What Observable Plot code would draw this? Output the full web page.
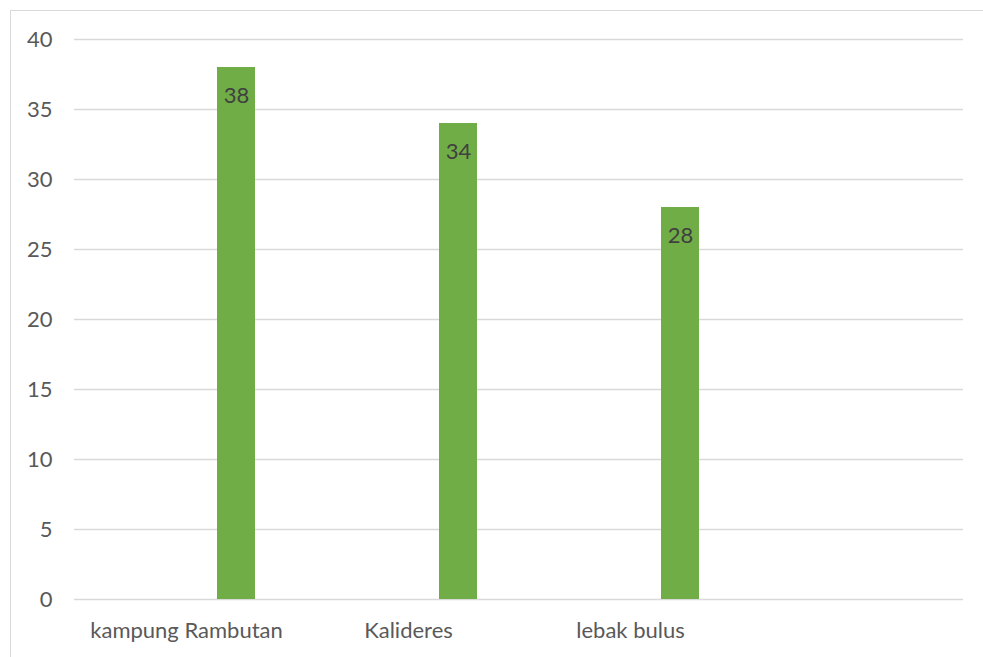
<!DOCTYPE html>
<html>
<head>
<meta charset="utf-8">
<script src="https://cdn.jsdelivr.net/npm/d3@7"></script>
<script src="https://cdn.jsdelivr.net/npm/@observablehq/plot@0.6"></script>
<style>
  html, body { margin: 0; padding: 0; background: #fff; overflow: hidden; }
  #wrap { position: relative; width: 983px; height: 657px; }
  #border { position: absolute; left: 10px; top: 10px; width: 1000px; height: 700px;
            border: 1px solid #d9d9d9; box-sizing: border-box; }
  #chart { position: absolute; left: 0; top: 0; }
  svg text { font-family: Lato, "Open Sans", sans-serif; }
</style>
</head>
<body>
<div id="wrap">
  <div id="border"></div>
  <div id="chart"></div>
</div>
<script>
// Locations and their counts
const categories = ["kampung Rambutan", "Kalideres", "lebak bulus", ""];
const values = [38, 34, 28];
const yTicks = [0, 5, 10, 15, 20, 25, 30, 35, 40];

const data = values.map((v, i) => ({ category: categories[i], value: v }));

const green = "#70ad47";
const grid = "#d9d9d9";

const chart = Plot.plot({
  width: 983,
  height: 657,
  marginLeft: 74,
  marginRight: 20,
  marginTop: 39,
  marginBottom: 58,
  style: { fontFamily: "Lato, 'Open Sans', sans-serif", fontSize: "22px", background: "transparent" },
  x: { domain: categories, padding: 0, label: null },
  y: { domain: [0, 40], ticks: yTicks, label: null },
  marks: [
    Plot.gridY(yTicks, { stroke: grid, strokeOpacity: 1, strokeWidth: 1.5 }),
    Plot.axisY({ ticks: yTicks, tickSize: 0, tickPadding: 22, fill: "#595959", fontSize: 22 }),
    Plot.axisX({ tickSize: 0, tickPadding: 23, fill: "#595959", fontSize: 22, tickFormat: d => d }),
    Plot.barY(data, {
      x: "category", y: "value", fill: green,
      insetLeft: 142, insetRight: 42
    }),
    Plot.text(data, {
      x: "category", y: "value", text: d => String(d.value),
      dx: 50, dy: 28, fill: "#404040", fontSize: 22
    })
  ]
});

document.getElementById("chart").appendChild(chart);
</script>
</body>
</html>
